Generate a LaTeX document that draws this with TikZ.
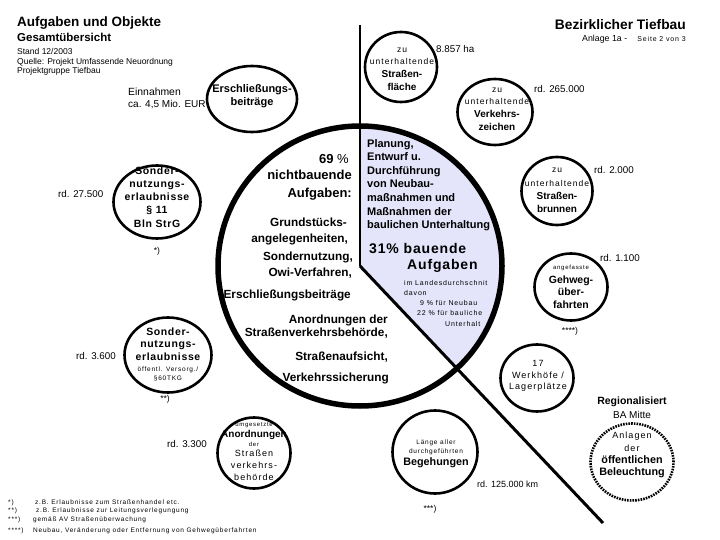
\documentclass[tikz,border=0pt]{standalone}
\usepackage{fontspec}
\setmainfont{Liberation Sans}
\newfontfamily\spc[LetterSpace=12]{Liberation Sans}
\newfontfamily\spcb[LetterSpace=6]{Liberation Sans}
\usetikzlibrary{shapes.geometric}
\newcommand\fsz[1]{\fontsize{#1}{#1}\selectfont}
\definecolor{lav}{RGB}{228,228,250}
\begin{document}
\begin{tikzpicture}[x=1pt,y=-1pt,
  tc/.style={inner sep=0pt, anchor=base},
  tw/.style={inner sep=0pt, anchor=base west},
  te/.style={inner sep=0pt, anchor=base east},
  ring/.style={draw, ellipse, line width=2.6pt, inner sep=0pt},
  dotring/.style={ring, dash pattern=on 1.6pt off 1.1pt},
  small/.style={font=\spc\fsz{8.5}},
  tiny/.style={font=\spc\fsz{6.5}},
  rd/.style={tw, font=\fsz{9.8}},
  cb/.style={font=\bfseries\fsz{10}},
  bigL/.style={te, font=\bfseries\fsz{13}},
  midL/.style={te, font=\bfseries\fsz{11.8}},
  midR/.style={tw, font=\bfseries\fsz{11}},
  foot/.style={tw, font=\spc\fsz{6.5}}]
\useasboundingbox (0,0) rectangle (720,540);
\fill[white] (0,0) rectangle (720,540);

% big circle with shaded sector
\node[ellipse, minimum width=284pt, minimum height=280pt, inner sep=0pt] (big) at (360,266) {};
\fill[lav] (big.center) -- (big.north) arc[start angle=-90, end angle=46.5, x radius=142, y radius=140] -- cycle;
\draw[line width=5.5pt] (big.center) ellipse [x radius=142, y radius=140];
\coordinate (vtop) at (360,25);
\coordinate (dend) at (603,523);
\draw[line width=1.6pt] (vtop) -- (big.center);
\draw[line width=3pt] (big.center) -- (dend);

% header
\node[tw, font=\bfseries\fsz{13.5}] (h1) at (17,27) {Aufgaben und Objekte};
\node[tw, font=\bfseries\fsz{11.5}] (h2) at (17,42) {Gesamtübersicht};
\node[tw, font=\fsz{8.5}] (h3) at (17,55) {Stand 12/2003};
\node[tw, font=\fsz{8.5}] (h4) at (17,64.5) {Quelle: Projekt Umfassende Neuordnung};
\node[tw, font=\fsz{8.5}] (h5) at (17,74) {Projektgruppe Tiefbau};
\node[te, font=\bfseries\fsz{13.8}] (h6) at (686,30) {Bezirklicher Tiefbau};
\node[tw, font=\fsz{8.8}] (h7) at (582,42) {Anlage 1a -};
\node[te, font=\spc\fsz{7}] (h8) at (686,42) {Seite 2 von 3};

% Erschliessungsbeitraege
\node[ring, minimum width=90pt, minimum height=66pt] (eb) at (252,99) {};
\node[tc, font=\bfseries\fsz{11}] (eb1) at (252,93) {Erschließungs-};
\node[tc, font=\bfseries\fsz{11}] (eb2) at (252,106) {beiträge};
\node[tw, font=\fsz{10.4}] (ein1) at (128,96) {Einnahmen};
\node[tw, font=\fsz{10}] (ein2) at (128,107.5) {ca. 4,5 Mio. EUR};

% Strassenflaeche
\node[ring, minimum width=72pt, minimum height=70pt] (sf) at (401,67) {};
\node[tc, small] (sf1) at (402,53) {zu};
\node[tc, small] (sf2) at (402,65) {unterhaltende};
\node[tc, cb] (sf3) at (402,78) {Straßen-};
\node[tc, cb] (sf4) at (402,91) {fläche};
\node[rd] (sfv) at (436,53) {8.857 ha};

% Verkehrszeichen
\node[ring, minimum width=75pt, minimum height=66pt] (vz) at (495,112) {};
\node[tc, small] (vz1) at (497,93) {zu};
\node[tc, small] (vz2) at (497,105) {unterhaltende};
\node[tc, cb] (vz3) at (497,118) {Verkehrs-};
\node[tc, cb] (vz4) at (497,131) {zeichen};
\node[rd] (vzv) at (534,93) {rd. 265.000};

% Strassenbrunnen
\node[ring, minimum width=71pt, minimum height=68pt] (sb) at (557,191) {};
\node[tc, small] (sb1) at (557,173) {zu};
\node[tc, small] (sb2) at (557,186.5) {unterhaltende};
\node[tc, cb] (sb3) at (557,199.5) {Straßen-};
\node[tc, cb] (sb4) at (557,212) {brunnen};
\node[rd] (sbv) at (594,174) {rd. 2.000};

% Gehwegueberfahrten
\node[ring, minimum width=73pt, minimum height=67pt] (gw) at (571,287) {};
\node[tc, font=\spc\fsz{6}] (gw1) at (571,269.5) {angefasste};
\node[tc, font=\bfseries\fsz{10.5}] (gw2) at (571,283) {Gehweg-};
\node[tc, font=\bfseries\fsz{10.5}] (gw3) at (571,295.5) {über-};
\node[tc, font=\bfseries\fsz{10.5}] (gw4) at (571,308) {fahrten};
\node[rd] (gwv) at (600,261) {rd. 1.100};
\node[tc, font=\fsz{8.5}] (gwf) at (570,333) {****)};

% Werkhoefe
\node[ring, minimum width=73pt, minimum height=67pt] (wh) at (537,378) {};
\node[tc, font=\spc\fsz{9}] (wh1) at (538,366) {17};
\node[tc, font=\spc\fsz{9}] (wh2) at (538,378) {Werkhöfe /};
\node[tc, font=\spc\fsz{9}] (wh3) at (538,389.5) {Lagerplätze};

% Beleuchtung
\node[tc, font=\bfseries\fsz{10.5}] (reg) at (632,404) {Regionalisiert};
\node[tc, font=\fsz{10}] (ba) at (632,418) {BA Mitte};
\node[dotring, minimum width=83pt, minimum height=77pt] (bl) at (632,462) {};
\node[tc, font=\spc\fsz{9}] (bl1) at (632,438) {Anlagen};
\node[tc, font=\spc\fsz{9}] (bl2) at (632,451) {der};
\node[tc, font=\bfseries\fsz{10.8}] (bl3) at (632,463) {öffentlichen};
\node[tc, font=\bfseries\fsz{10.8}] (bl4) at (632,475.5) {Beleuchtung};

% Begehungen
\node[ring, minimum width=85pt, minimum height=83pt] (bg) at (435,452) {};
\node[tc, tiny] (bg1) at (436,444) {Länge aller};
\node[tc, tiny] (bg2) at (436,453) {durchgeführten};
\node[tc, font=\bfseries\fsz{10.8}] (bg3) at (436,465.5) {Begehungen};
\node[tw, font=\fsz{9}] (bgv) at (477,487) {rd. 125.000 km};
\node[tc, font=\fsz{8.5}] (bgf) at (430,511) {***)};

% Anordnungen
\node[ring, minimum width=73pt, minimum height=71pt] (an) at (254,453) {};
\node[tc, font=\spc\fsz{6}] (an1) at (254,426) {umgesetzte};
\node[tc, font=\bfseries\fsz{10}] (an2) at (254,437) {Anordnungen};
\node[tc, font=\spc\fsz{6}] (an3) at (254,446) {der};
\node[tc, font=\spc\fsz{9}] (an4) at (254,456.5) {Straßen};
\node[tc, font=\spc\fsz{9}] (an5) at (254,468) {verkehrs-};
\node[tc, font=\spc\fsz{9}] (an6) at (254,480) {behörde};
\node[rd] (anv) at (167,447) {rd. 3.300};

% Sondernutzung 1
\node[ring, minimum width=87pt, minimum height=73pt] (sn) at (157,202) {};
\node[tc, font=\spcb\bfseries\fsz{10.5}] (sn1) at (157,175) {Sonder-};
\node[tc, font=\spcb\bfseries\fsz{10.5}] (sn2) at (157,187.5) {nutzungs-};
\node[tc, font=\spcb\bfseries\fsz{10.5}] (sn3) at (157,201) {erlaubnisse};
\node[tc, font=\spcb\bfseries\fsz{10.5}] (sn4) at (157,214) {§ 11};
\node[tc, font=\spcb\bfseries\fsz{10.5}] (sn5) at (157,227) {Bln StrG};
\node[rd] (snv) at (58,198) {rd. 27.500};
\node[tc, font=\fsz{8.5}] (snf) at (157,253) {*)};

% Sondernutzung 2
\node[ring, minimum width=87pt, minimum height=75pt] (so) at (168,355) {};
\node[tc, font=\spcb\bfseries\fsz{10.5}] (so1) at (168,335.5) {Sonder-};
\node[tc, font=\spcb\bfseries\fsz{10.5}] (so2) at (168,347.5) {nutzungs-};
\node[tc, font=\spcb\bfseries\fsz{10.5}] (so3) at (168,360) {erlaubnisse};
\node[tc, tiny] (so4) at (168,371) {öffentl. Versorg./};
\node[tc, tiny] (so5) at (168,380.5) {§60TKG};
\node[rd] (sov) at (76,359) {rd. 3.600};
\node[tc, font=\fsz{8.5}] (sof) at (165,401) {**)};

% left half texts
\node[bigL] (L1) at (349,164) {69 {\mdseries\%}};
\node[bigL] (L2) at (352,180) {nichtbauende};
\node[bigL] (L3) at (352,197) {Aufgaben:};
\node[midL] (L4) at (347,226) {Grundstücks-};
\node[midL] (L5) at (348,242.5) {angelegenheiten,};
\node[midL] (L6) at (353,260) {Sondernutzung,};
\node[midL] (L7) at (352,276) {Owi-Verfahren,};
\node[midL] (L8) at (351,298) {Erschließungsbeiträge};
\node[midL] (L9) at (388,323) {Anordnungen der};
\node[midL] (L10) at (388,336) {Straßenverkehrsbehörde,};
\node[midL] (L11) at (388,360) {Straßenaufsicht,};
\node[midL] (L12) at (389,381) {Verkehrssicherung};

% right sector texts
\node[midR] (R1) at (367,147.5) {Planung,};
\node[midR] (R2) at (367,161) {Entwurf u.};
\node[midR] (R3) at (367,174.5) {Durchführung};
\node[midR] (R4) at (367,188) {von Neubau-};
\node[midR] (R5) at (367,201.5) {maßnahmen und};
\node[midR] (R6) at (367,215) {Maßnahmen der};
\node[midR] (R7) at (367,228.5) {baulichen Unterhaltung};
\node[tw, font=\spcb\bfseries\fsz{14}] (R8) at (369,253) {31\% bauende};
\node[tw, font=\spcb\bfseries\fsz{14}] (R9) at (407,269) {Aufgaben};
\node[tw, font=\spc\fsz{7}] (R10) at (404,285) {im Landesdurchschnit};
\node[tw, font=\spc\fsz{7}] (R11) at (404,295) {davon};
\node[tw, font=\spc\fsz{7}] (R12) at (420,305) {9 \% für Neubau};
\node[tw, font=\spc\fsz{7}] (R13) at (417,315) {22 \% für bauliche};
\node[tw, font=\spc\fsz{7}] (R14) at (445,326) {Unterhalt};

% footnotes
\node[foot] (f1a) at (8,504) {*)};
\node[foot] (f1b) at (35,504) {z.B. Erlaubnisse zum Straßenhandel etc.};
\node[foot] (f2a) at (8,512.5) {**)};
\node[foot] (f2b) at (36,512.5) {z.B. Erlaubnisse zur Leitungsverlegungung};
\node[foot] (f3a) at (8,521) {***)};
\node[foot] (f3b) at (33,521) {gemäß AV Straßenüberwachung};
\node[foot] (f4a) at (8,532.5) {****)};
\node[foot] (f4b) at (33,532.5) {Neubau, Veränderung oder Entfernung von Gehwegüberfahrten};
\end{tikzpicture}
\end{document}
